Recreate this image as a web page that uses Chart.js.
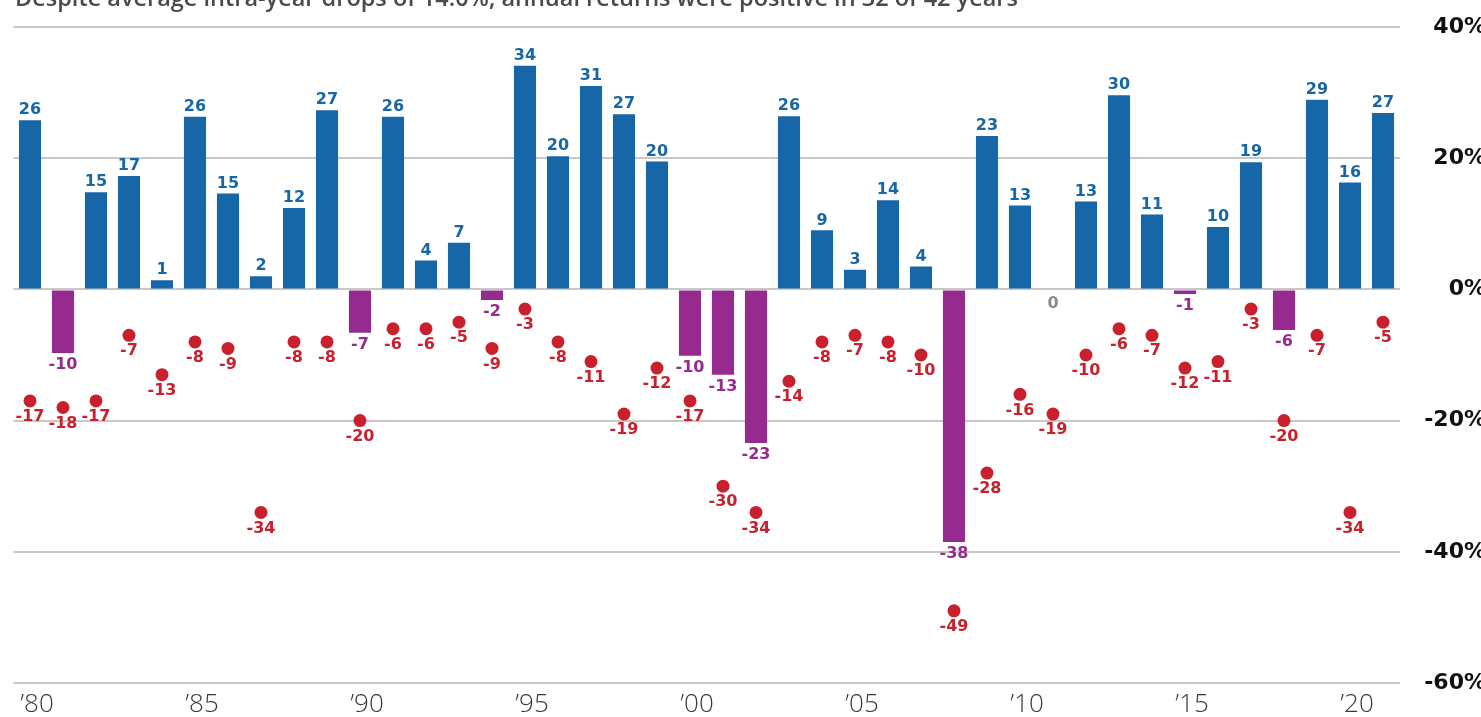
<!DOCTYPE html>
<html>
<head>
<meta charset="utf-8">
<script src="https://cdn.jsdelivr.net/npm/chart.js@4/dist/chart.umd.min.js"></script>
<style>
  html, body { margin: 0; padding: 0; background: #fff; overflow: hidden; }
  #wrap { position: relative; width: 1486px; height: 717px; }
  #title {
    position: absolute; left: 15px; top: -15px;
    font: 600 23.5px "Open Sans", sans-serif; color: #4a4a4a;
    white-space: nowrap; line-height: 24px;
  }
</style>
</head>
<body>
<div id="wrap">
  <canvas id="chart"></canvas>
  <div id="title">Despite average intra-year drops of 14.0%, annual returns were positive in 32 of 42 years</div>
</div>
<script>
// Calendar years
var years = [1980, 1981, 1982, 1983, 1984, 1985, 1986, 1987, 1988, 1989,
             1990, 1991, 1992, 1993, 1994, 1995, 1996, 1997, 1998, 1999,
             2000, 2001, 2002, 2003, 2004, 2005, 2006, 2007, 2008, 2009,
             2010, 2011, 2012, 2013, 2014, 2015, 2016, 2017, 2018, 2019,
             2020, 2021];

// Calendar year returns (%)
var annualReturns = [25.8, -9.7, 14.8, 17.3, 1.4, 26.3, 14.6, 2.0, 12.4, 27.3,
                     -6.6, 26.3, 4.4, 7.1, -1.6, 34.1, 20.3, 31.0, 26.7, 19.5,
                     -10.1, -13.0, -23.4, 26.4, 9.0, 3.0, 13.6, 3.5, -38.5, 23.4,
                     12.8, 0.0, 13.4, 29.6, 11.4, -0.7, 9.5, 19.4, -6.2, 28.9,
                     16.3, 26.9];

// Intra-year declines (%)
var intraYearDrops = [-17, -18, -17, -7, -13, -8, -9, -34, -8, -8,
                      -20, -6, -6, -5, -9, -3, -8, -11, -19, -12,
                      -17, -30, -34, -14, -8, -7, -8, -10, -49, -28,
                      -16, -19, -10, -6, -7, -12, -11, -3, -20, -7,
                      -34, -5];

// Axis labels
var xTickYears = [1980, 1985, 1990, 1995, 2000, 2005, 2010, 2015, 2020];
var xTickLabels = ["\u201980", "\u201985", "\u201990", "\u201995", "\u201900", "\u201905", "\u201910", "\u201915", "\u201920"];
var yTicks = [40, 20, 0, -20, -40, -60];

var BLUE = "#1767a8";
var PURPLE = "#962a8f";
var RED = "#c9202e";
var GRAY = "#8a8a8a";

// Value labels on bars and dots
var valueLabels = {
    id: "valueLabels",
    afterDatasetsDraw: function(chart) {
        var ctx = chart.ctx;
        ctx.save();
        ctx.font = "bold 16px 'DejaVu Sans'";
        ctx.textAlign = "center";

        chart.getDatasetMeta(0).data.forEach(function(bar, i) {
            var v = annualReturns[i];
            var txt = String(Math.round(v));
            if (v > 0) {
                ctx.fillStyle = BLUE;
                ctx.textBaseline = "bottom";
                ctx.fillText(txt, bar.x, bar.y - 2);
            } else if (v < 0) {
                ctx.fillStyle = PURPLE;
                ctx.textBaseline = "top";
                ctx.fillText(txt, bar.x, bar.y + 4);
            } else {
                ctx.fillStyle = GRAY;
                ctx.textBaseline = "top";
                ctx.fillText("0", bar.x, bar.y + 6);
            }
        });

        ctx.fillStyle = RED;
        ctx.textBaseline = "top";
        chart.getDatasetMeta(1).data.forEach(function(pt, i) {
            ctx.fillText(String(intraYearDrops[i]), pt.x, pt.y + 8);
        });
        ctx.restore();
    }
};

var chart = new Chart(document.getElementById("chart"), {
    type: "bar",
    data: {
        labels: years,
        datasets: [
            {
                label: "Calendar year return",
                data: annualReturns,
                backgroundColor: annualReturns.map(function(v) { return v < 0 ? PURPLE : BLUE; }),
                barPercentage: 0.67,
                categoryPercentage: 1,
                order: 2
            },
            {
                type: "line",
                label: "Intra-year decline",
                data: intraYearDrops,
                showLine: false,
                pointRadius: 6.5,
                pointHoverRadius: 6.5,
                pointBackgroundColor: RED,
                pointBorderWidth: 0,
                order: 1
            }
        ]
    },
    options: {
        responsive: true,
        maintainAspectRatio: false,
        animation: false,
        events: [],
        layout: {
            padding: { left: 13.5, top: 27, right: 0, bottom: 0 }
        },
        plugins: {
            legend: { display: false },
            tooltip: { enabled: false }
        },
        scales: {
            x: {
                grid: { display: false, drawTicks: false },
                border: { display: false },
                ticks: {
                    autoSkip: false,
                    maxRotation: 0,
                    padding: 6,
                    labelOffset: 7,
                    color: "#3a3a3a",
                    font: { family: "'Open Sans'", size: 26, weight: 300 },
                    callback: function(value, index) {
                        var k = xTickYears.indexOf(years[index]);
                        return k >= 0 ? xTickLabels[k] : "";
                    }
                },
                afterFit: function(axis) { axis.height = 34; }
            },
            y: {
                position: "right",
                min: -60,
                max: 40,
                afterBuildTicks: function(axis) {
                    axis.ticks = yTicks.map(function(v) { return { value: v }; });
                },
                grid: { color: "#c8c8c8", lineWidth: 2, drawTicks: false },
                border: { display: false },
                ticks: {
                    crossAlign: "far",
                    color: "#111",
                    font: { family: "'DejaVu Sans'", size: 22, weight: "bold" },
                    callback: function(v) { return v + "%"; }
                },
                afterFit: function(axis) { axis.width = 86.5; }
            }
        }
    },
    plugins: [valueLabels]
});
</script>
</body>
</html>
